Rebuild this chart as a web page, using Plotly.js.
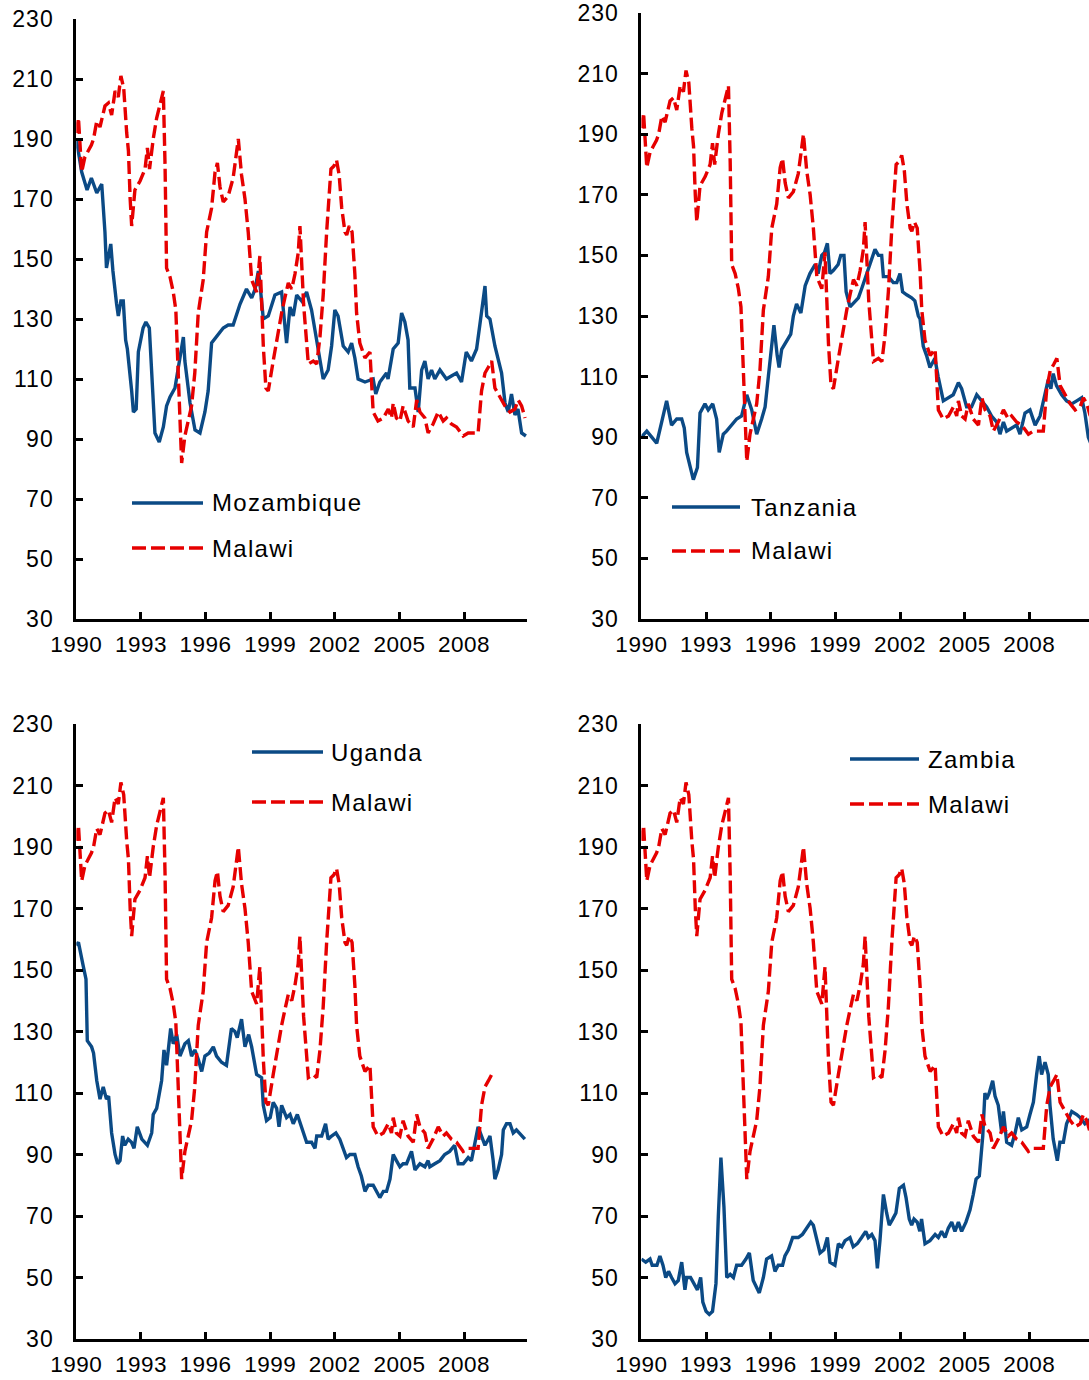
<!DOCTYPE html>
<html><head><meta charset="utf-8">
<script src="https://cdn.plot.ly/plotly-3.0.1.min.js"></script>
<style>html,body{margin:0;padding:0;overflow:hidden;background:#fff}#chart{width:1089px;height:1380px}</style>
</head><body><div id="chart"></div>
<script>
// ---------------- DATA ----------------
const malawiYears = [1990.00,1990.10,1990.25,1990.40,1990.55,1990.70,1990.80,1990.95,1991.10,1991.33,1991.49,1991.64,1991.80,1991.95,1992.07,1992.20,1992.34,1992.42,1992.50,1992.57,1992.72,1992.96,1993.19,1993.30,1993.40,1993.57,1993.73,1993.88,1994.04,1994.12,1994.19,1994.35,1994.50,1994.62,1994.73,1994.89,1995.04,1995.20,1995.35,1995.50,1995.66,1995.89,1996.05,1996.28,1996.44,1996.55,1996.67,1996.82,1997.05,1997.28,1997.52,1997.67,1997.83,1997.98,1998.14,1998.37,1998.52,1998.60,1998.68,1998.80,1998.91,1999.14,1999.37,1999.53,1999.68,1999.84,2000.00,2000.15,2000.30,2000.38,2000.55,2000.77,2001.00,2001.16,2001.31,2001.46,2001.62,2001.74,2001.82,2001.96,2002.08,2002.20,2002.32,2002.47,2002.55,2002.67,2002.80,2002.93,2003.01,2003.16,2003.40,2003.63,2003.70,2003.78,2004.00,2004.25,2004.48,2004.63,2004.71,2004.86,2005.02,2005.17,2005.40,2005.64,2005.80,2005.95,2006.18,2006.33,2006.56,2006.80,2007.03,2007.18,2007.41,2007.65,2007.96,2008.19,2008.42,2008.65,2008.81,2008.97,2009.13,2009.28,2009.43,2009.66,2009.90,2010.13,2010.36,2010.51,2010.67,2010.83];
const malawiValues = [192,197,179,184,186,188,190,196,194,201,202,198,206,204,211,207,192,186,170,161,173,176,180,187,180,190,197,201,206,181,147,144,139,133,110,82,91,96,101,112,132,143,159,167,179,182,174,169,171,177,190,178,170,159,143,139,151,136,121,107,106,116,126,132,137,142,140,145,152,161,135,115,116,115,124,138,159,170,180,181,183,178,167,159,158,161,159,145,132,122,117,119,110,99,96,97,100,97,102,97,96,101,96,94,103,99,97,92,95,99,96,97,95,94,91,92,92,92,106,112,114,116,107,104,101,99,100,103,101,97];

const mozambiqueYears = [1990.00,1990.08,1990.25,1990.50,1990.70,1990.95,1991.18,1991.33,1991.40,1991.60,1991.70,1991.87,1991.95,1992.07,1992.18,1992.29,1992.37,1992.57,1992.65,1992.78,1992.88,1993.10,1993.23,1993.39,1993.50,1993.65,1993.85,1994.04,1994.19,1994.35,1994.58,1994.73,1994.97,1995.04,1995.28,1995.51,1995.74,1995.97,1996.12,1996.28,1996.59,1996.82,1997.05,1997.28,1997.60,1997.90,1998.14,1998.30,1998.45,1998.52,1998.68,1998.91,1999.22,1999.53,1999.76,1999.92,2000.07,2000.23,2000.46,2000.69,2000.92,2001.16,2001.46,2001.69,2001.85,2002.00,2002.15,2002.39,2002.62,2002.78,2002.93,2003.08,2003.40,2003.78,2003.90,2004.09,2004.40,2004.47,2004.71,2004.94,2005.10,2005.25,2005.40,2005.48,2005.72,2005.87,2006.03,2006.18,2006.33,2006.49,2006.64,2006.88,2007.18,2007.41,2007.65,2007.88,2008.10,2008.34,2008.58,2008.73,2008.89,2008.97,2009.05,2009.20,2009.43,2009.58,2009.74,2009.90,2010.05,2010.20,2010.36,2010.50,2010.67,2010.87];
const mozambiqueValues = [190,186,179,173,177,172,175,159,147,155,146,135,131,136,136,123,120,106,99,100,119,127,129,127,110,92,89,94,101,104,107,114,124,116,102,93,92,99,106,122,125,127,128,128,135,140,137,140,146,142,130,131,138,139,122,134,131,138,136,139,133,122,110,113,121,133,131,121,119,122,117,110,109,110,105,109,112,110,120,122,132,129,123,107,107,99,113,116,110,113,110,113,110,111,112,109,119,116,120,128,136,141,131,130,121,116,112,102,99,105,98,100,92,91];

const tanzaniaYears = [1990.00,1990.25,1990.48,1990.71,1990.94,1991.17,1991.40,1991.64,1991.87,1991.99,1992.10,1992.25,1992.41,1992.60,1992.72,1992.95,1993.10,1993.31,1993.49,1993.61,1993.80,1993.95,1994.19,1994.42,1994.65,1994.89,1995.12,1995.35,1995.58,1995.74,1995.89,1996.05,1996.15,1996.30,1996.39,1996.51,1996.74,1996.93,1997.05,1997.20,1997.40,1997.60,1997.82,1998.06,1998.20,1998.37,1998.50,1998.63,1998.75,1998.90,1999.13,1999.25,1999.40,1999.50,1999.68,1999.91,2000.07,2000.22,2000.45,2000.69,2000.84,2001.00,2001.15,2001.23,2001.46,2001.69,2001.85,2002.00,2002.12,2002.31,2002.54,2002.69,2002.85,2002.93,2003.08,2003.23,2003.39,2003.62,2003.77,2004.01,2004.24,2004.47,2004.71,2004.86,2005.09,2005.32,2005.56,2005.79,2006.02,2006.25,2006.49,2006.64,2006.80,2006.95,2007.18,2007.41,2007.57,2007.80,2008.03,2008.27,2008.50,2008.73,2008.88,2009.00,2009.11,2009.26,2009.50,2009.73,2009.97,2010.20,2010.43,2010.58,2010.74,2010.85];
const tanzaniaValues = [90,92,90,88,95,102,94,96,96,93,85,80,76,80,98,101,99,101,96,85,91,92,94,96,97,104,99,91,96,100,110,120,127,117,113,119,122,124,130,134,131,140,144,147,144,150,151,154,144,145,147,150,150,138,133,135,136,139,144,149,152,150,150,143,143,141,141,144,138,137,136,135,130,129,120,117,113,116,110,102,103,104,108,106,100,100,104,102,100,97,95,91,95,92,93,94,91,98,99,94,97,104,109,106,111,107,104,102,101,102,103,98,90,88];

const ugandaYears = [1990.00,1990.10,1990.33,1990.45,1990.51,1990.71,1990.80,1990.95,1991.10,1991.25,1991.40,1991.50,1991.64,1991.80,1991.92,1992.03,1992.15,1992.25,1992.41,1992.56,1992.68,1992.83,1993.04,1993.30,1993.50,1993.57,1993.73,1993.88,1993.96,1994.07,1994.19,1994.27,1994.38,1994.50,1994.66,1994.81,1995.04,1995.20,1995.35,1995.50,1995.66,1995.82,1995.97,1996.17,1996.36,1996.51,1996.74,1996.97,1997.05,1997.20,1997.36,1997.47,1997.67,1997.83,1998.00,1998.14,1998.37,1998.60,1998.68,1998.83,1999.00,1999.14,1999.30,1999.41,1999.53,1999.76,1999.92,2000.07,2000.26,2000.46,2000.69,2000.92,2001.08,2001.16,2001.39,2001.57,2001.69,2001.85,2002.05,2002.23,2002.39,2002.54,2002.70,2002.93,2003.08,2003.23,2003.40,2003.55,2003.78,2003.93,2004.09,2004.25,2004.40,2004.56,2004.71,2004.86,2005.02,2005.17,2005.33,2005.56,2005.72,2005.95,2006.18,2006.33,2006.41,2006.64,2006.88,2007.10,2007.33,2007.56,2007.73,2007.96,2008.19,2008.34,2008.50,2008.65,2008.81,2008.97,2009.13,2009.20,2009.35,2009.43,2009.58,2009.74,2009.82,2009.97,2010.13,2010.28,2010.43,2010.67,2010.82];
const ugandaValues = [158,159,151,147,127,125,123,114,108,112,108,109,97,90,87,88,96,93,95,94,92,99,95,93,97,103,105,110,114,124,119,124,131,126,129,122,126,127,122,124,121,117,122,123,125,122,120,119,124,131,130,128,134,125,129,125,116,115,106,101,102,107,105,99,106,102,103,100,103,99,94,94,92,96,96,100,95,96,97,95,92,89,90,90,86,83,78,80,80,78,76,78,78,82,90,88,86,87,87,91,85,87,86,88,86,87,88,90,91,93,87,87,89,88,94,99,96,93,95,96,88,82,85,90,98,100,100,97,98,96,95];

const zambiaYears = [1990.00,1990.20,1990.40,1990.50,1990.60,1990.72,1990.86,1991.00,1991.13,1991.26,1991.40,1991.56,1991.71,1991.87,1992.02,1992.10,1992.28,1992.49,1992.60,1992.75,1992.85,1993.00,1993.15,1993.30,1993.46,1993.57,1993.69,1993.83,1993.96,1994.12,1994.27,1994.42,1994.65,1994.85,1995.01,1995.19,1995.47,1995.66,1995.81,1996.04,1996.20,1996.35,1996.55,1996.66,1996.82,1997.02,1997.28,1997.47,1997.67,1997.86,1997.98,1998.13,1998.29,1998.47,1998.63,1998.75,1998.98,1999.14,1999.30,1999.45,1999.68,1999.83,2000.02,2000.22,2000.41,2000.53,2000.69,2000.84,2000.95,2001.07,2001.23,2001.38,2001.50,2001.66,2001.81,2001.97,2002.16,2002.28,2002.43,2002.54,2002.65,2002.80,2002.92,2003.00,2003.16,2003.39,2003.63,2003.78,2003.93,2004.09,2004.24,2004.40,2004.55,2004.71,2004.86,2005.06,2005.25,2005.40,2005.53,2005.68,2005.84,2005.94,2006.02,2006.14,2006.30,2006.41,2006.56,2006.72,2006.80,2006.95,2007.18,2007.34,2007.49,2007.65,2007.88,2008.03,2008.19,2008.34,2008.46,2008.57,2008.73,2008.88,2008.96,2009.11,2009.30,2009.42,2009.58,2009.73,2009.97,2010.20,2010.36,2010.58,2010.74,2010.85];
const zambiaValues = [56,55,56,54,54,54,57,54,50,52,50,48,49,55,46,50,50,47,46,50,42,39,38,39,48,70,89,73,50,51,50,54,54,56,58,49,45,50,56,57,52,54,54,57,59,63,63,64,66,68,67,62,58,59,63,55,54,61,60,62,63,60,61,63,65,63,64,62,53,62,77,71,67,69,71,79,80,76,69,67,69,68,65,69,61,62,64,63,65,63,66,68,65,68,65,68,72,77,82,83,96,110,108,110,114,109,106,97,104,94,93,97,102,98,99,103,107,116,122,116,120,116,106,95,88,94,94,100,104,103,102,100,101,100];

const tickYears = [1990,1993,1996,1999,2002,2005,2008];
const tickYearLabels = ['1990','1993','1996','1999','2002','2005','2008'];
const yTicks = [30,50,70,90,110,130,150,170,190,210,230];
const ugandaMalawiEnd = 2009.3;

// ---------------- LAYOUT HELPERS ----------------
const W = 1089, H = 1380;
const px = v => v / W;
const py = v => 1 - v / H;
const BLUE = '#0B4A85', RED = '#E60000';
const FONT = 'Liberation Sans, Arial, sans-serif';
const spaced = (t, ls) => '<span style="letter-spacing:' + ls + 'px">' + t + '</span>';

const panels = [
  {name:'Mozambique', years:mozambiqueYears, vals:mozambiqueValues, x0:76.3, x1:527, y0:19, y1:619, xEnd:2010.92,
   leg:{l0:132,l1:203,t:210,y1:503,y2:548}},
  {name:'Tanzania', years:tanzaniaYears, vals:tanzaniaValues, x0:641.4, x1:1089, y0:13, y1:619, xEnd:1990+(1089-641.4)/21.55,
   leg:{l0:672,l1:740,t:749,y1:507,y2:551}},
  {name:'Uganda', years:ugandaYears, vals:ugandaValues, x0:76.3, x1:527, y0:724, y1:1339, xEnd:2010.92, malawiEnd:ugandaMalawiEnd,
   leg:{l0:252,l1:323,t:329,y1:752,y2:802}},
  {name:'Zambia', years:zambiaYears, vals:zambiaValues, x0:641.4, x1:1089, y0:724, y1:1339, xEnd:1990+(1089-641.4)/21.55,
   leg:{l0:850,l1:919,t:926,y1:759,y2:804}}
];

const traces = [], shapes = [], annotations = [];
const layout = {
  width: W, height: H, margin:{l:0,r:0,t:0,b:0},
  paper_bgcolor:'#fff', plot_bgcolor:'#fff', showlegend:false,
  font:{family:FONT, color:'#000'}
};

panels.forEach((p, i) => {
  const n = i + 1;
  const xa = n === 1 ? 'x' : 'x' + n, ya = n === 1 ? 'y' : 'y' + n;
  layout[n === 1 ? 'xaxis' : 'xaxis' + n] = {
    domain:[px(p.x0), Math.min(1, px(p.x1))], range:[1990, p.xEnd], anchor:ya,
    showline:true, linewidth:3, linecolor:'#000', showgrid:false, zeroline:false,
    tickmode:'array', tickvals:tickYears, ticktext:tickYearLabels.map(t => spaced(t, 0.5)),
    ticks:'inside', ticklen:7, tickwidth:3, tickcolor:'#000',
    tickfont:{size:22.5, family:FONT, color:'#000'}, ticklabelstandoff:3
  };
  layout[n === 1 ? 'yaxis' : 'yaxis' + n] = {
    domain:[py(p.y1), py(p.y0)], range:[30, 230], anchor:xa,
    showline:true, linewidth:3, linecolor:'#000', showgrid:false, zeroline:false,
    tickmode:'array', tickvals:yTicks, ticktext:yTicks.map(v => spaced(String(v), 1)),
    ticks:'inside', ticklen:7, tickwidth:3, tickcolor:'#000',
    tickfont:{size:23, family:FONT, color:'#000'}, ticklabelstandoff:15
  };
  traces.push({x:p.years, y:p.vals, xaxis:xa, yaxis:ya, type:'scatter', mode:'lines',
    line:{color:BLUE, width:3.4}, name:p.name, hoverinfo:'skip'});
  let mx = malawiYears, my = malawiValues;
  if (p.malawiEnd) {
    const k = malawiYears.filter(v => v <= p.malawiEnd).length;
    mx = malawiYears.slice(0, k); my = malawiValues.slice(0, k);
  }
  traces.push({x:mx, y:my, xaxis:xa, yaxis:ya, type:'scatter', mode:'lines',
    line:{color:RED, width:3.4, dash:'13px,5px'}, name:'Malawi', hoverinfo:'skip'});
  // legend
  const L = p.leg;
  shapes.push({type:'line', xref:'paper', yref:'paper', x0:px(L.l0), x1:px(L.l1), y0:py(L.y1), y1:py(L.y1),
    line:{color:BLUE, width:3.4}});
  shapes.push({type:'line', xref:'paper', yref:'paper', x0:px(L.l0), x1:px(L.l1), y0:py(L.y2), y1:py(L.y2),
    line:{color:RED, width:3.4, dash:'14px,5px'}});
  annotations.push({xref:'paper', yref:'paper', x:px(L.t), y:py(L.y1), xanchor:'left', yanchor:'middle',
    text:spaced(p.name, 1.3), showarrow:false, font:{size:24, family:FONT, color:'#000'}});
  annotations.push({xref:'paper', yref:'paper', x:px(L.t), y:py(L.y2), xanchor:'left', yanchor:'middle',
    text:spaced('Malawi', 1.3), showarrow:false, font:{size:24, family:FONT, color:'#000'}});
});
layout.shapes = shapes;
layout.annotations = annotations;

Plotly.newPlot('chart', traces, layout, {displayModeBar:false, staticPlot:true});
</script>
</body></html>
